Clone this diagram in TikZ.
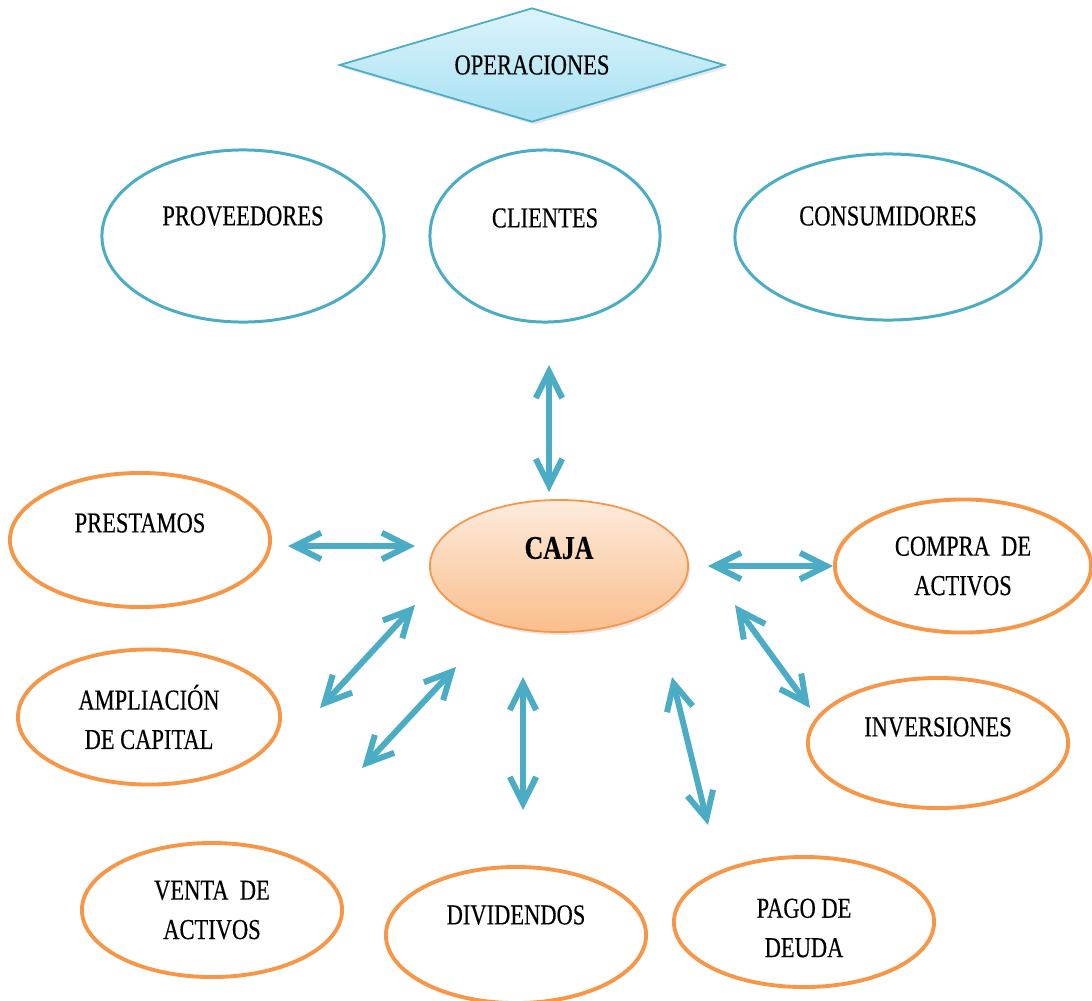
\documentclass[tikz,border=0pt]{standalone}
\usepackage{fontspec}
\setmainfont[FakeStretch=0.78,FakeBold=0.35]{Liberation Serif}
\usetikzlibrary{arrows.meta,shapes.geometric,shadows}

\definecolor{accblue}{HTML}{4BACC6}
\definecolor{accorange}{HTML}{F79646}
\definecolor{diatop}{HTML}{DCF4FB}
\definecolor{diabot}{HTML}{A6E0F2}
\definecolor{cajatop}{HTML}{FDEBDC}
\definecolor{cajabot}{HTML}{FABE8C}

\begin{document}
\begin{tikzpicture}[x=0.01cm,y=-0.01cm,font=\fontsize{8.2}{11.2}\selectfont,
    blue node/.style={ellipse,draw=accblue,line width=0.85pt,inner sep=0pt},
    orange node/.style={ellipse,draw=accorange,line width=1.1pt,inner sep=0pt},
    soft shadow/.style={drop shadow={opacity=0.2,shadow xshift=0.6pt,shadow yshift=-0.8pt}},
    arr/.style={draw=accblue,line width=1.7pt,
      {Straight Barb[length=7.5pt,width=7.5pt]}-{Straight Barb[length=7.5pt,width=7.5pt]}}]

    \useasboundingbox (0,0) rectangle (1092,1000);

    % top
    \node[diamond,aspect=3.38,draw=accblue,line width=0.5pt,top color=diatop,bottom color=diabot,
      inner sep=0pt,minimum width=3.85cm,minimum height=1.14cm,soft shadow] (oper) at (532,65) {OPERACIONES};

    \node[blue node,minimum width=2.82cm,minimum height=1.72cm,
      label={[yshift=0.2cm]center:PROVEEDORES}] (prov) at (243,236) {};
    \node[blue node,minimum width=2.30cm,minimum height=1.72cm,
      label={[yshift=0.18cm]center:CLIENTES}] (cli) at (545,236) {};
    \node[blue node,minimum width=3.06cm,minimum height=1.66cm,
      label={[yshift=0.21cm]center:CONSUMIDORES}] (cons) at (888,237) {};

    % centre
    \node[ellipse,draw=accorange,line width=0.5pt,top color=cajatop,bottom color=cajabot,
      inner sep=0pt,minimum width=2.58cm,minimum height=1.32cm,soft shadow,
      label={[yshift=0.18cm,font=\fontsize{9.4}{11}\selectfont\bfseries]center:CAJA}] (caja) at (559,566) {};

    % around
    \node[orange node,minimum width=2.60cm,minimum height=1.34cm,
      label={[yshift=0.17cm]center:PRESTAMOS}] (prest) at (140,540) {};
    \node[orange node,minimum width=2.62cm,minimum height=1.35cm,
      label={[align=center]center:AMPLIACIÓN\\DE CAPITAL}] (ampl) at (149,717) {};
    \node[orange node,minimum width=2.56cm,minimum height=1.33cm,
      label={[align=center]center:COMPRA\ \ DE\\ACTIVOS}] (compra) at (963,566) {};
    \node[orange node,minimum width=2.60cm,minimum height=1.30cm,
      label={[yshift=0.16cm]center:INVERSIONES}] (inv) at (938,743) {};
    \node[orange node,minimum width=2.60cm,minimum height=1.34cm,
      label={[align=center]center:VENTA\ \ DE\\ACTIVOS}] (venta) at (212,910) {};
    \node[orange node,minimum width=2.60cm,minimum height=1.36cm,
      label={[yshift=0.2cm]center:DIVIDENDOS}] (div) at (516,935) {};
    \node[orange node,minimum width=2.60cm,minimum height=1.30cm,
      label={[align=center,yshift=-0.06cm]center:PAGO DE\\DEUDA}] (pago) at (804,922) {};

    % arrow ends
    \coordinate (a1) at (549,365);  \coordinate (b1) at (549,492);
    \coordinate (a2) at (288,546);  \coordinate (b2) at (415,546);
    \coordinate (a3) at (708,566);  \coordinate (b3) at (833,566);
    \coordinate (a4) at (320,708);  \coordinate (b4) at (415,605);
    \coordinate (a5) at (362,768);  \coordinate (b5) at (456,667);
    \coordinate (a6) at (523,677);  \coordinate (b6) at (523,810);
    \coordinate (a7) at (672,677);  \coordinate (b7) at (708,825);
    \coordinate (a8) at (735,605);  \coordinate (b8) at (810,708);

    \foreach \i in {1,...,8}
      \draw[arr] (a\i) -- (b\i);

\end{tikzpicture}
\end{document}
